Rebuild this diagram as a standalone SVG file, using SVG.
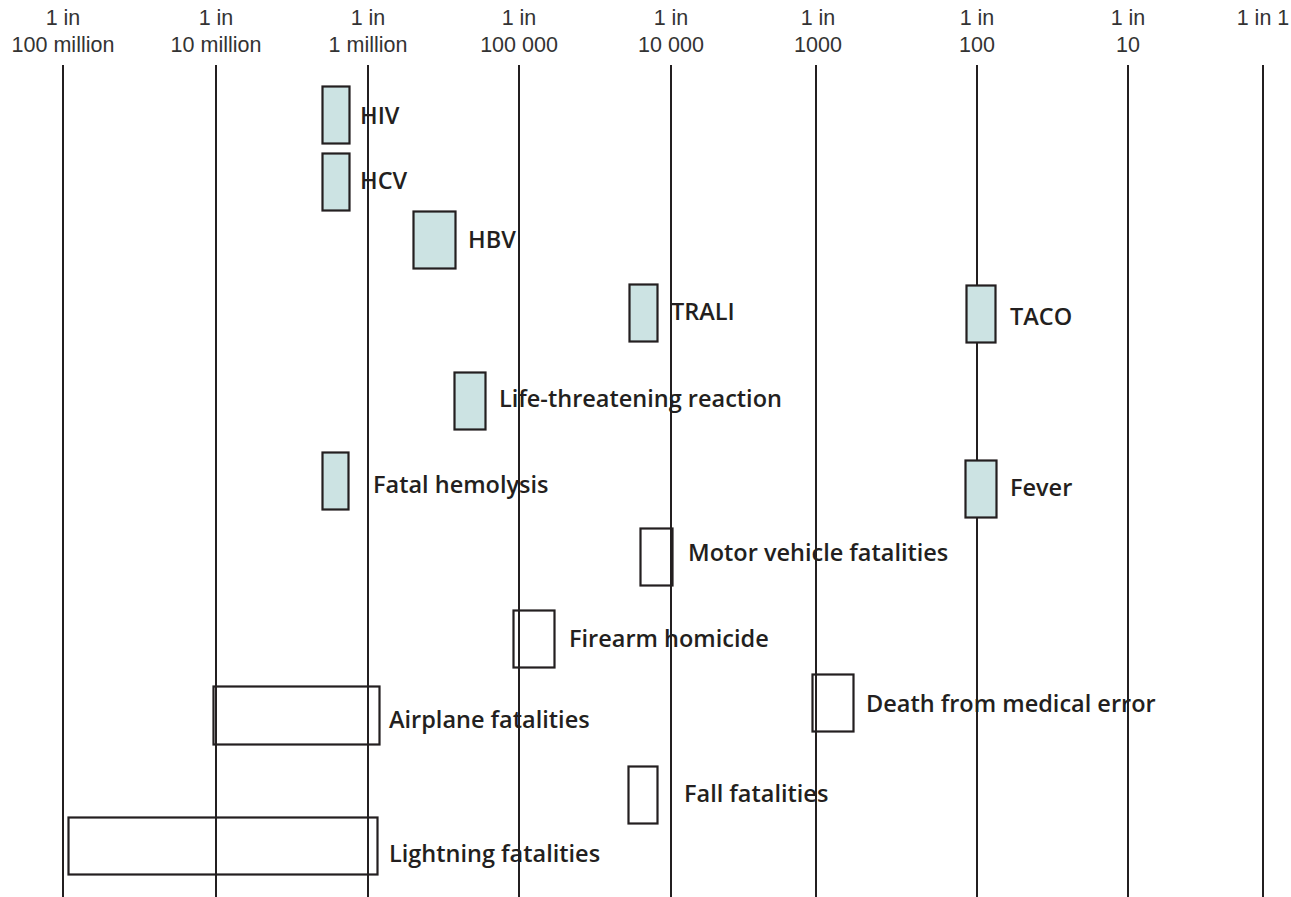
<svg xmlns="http://www.w3.org/2000/svg" width="1291" height="897" viewBox="0 0 1291 897">
<style>
.axis{stroke:#231f20;stroke-width:2;fill:none}
.hd{font-family:"Liberation Sans",Arial,sans-serif;font-size:21.5px;fill:#333;text-anchor:middle}
.b{stroke:#231f20;stroke-width:2.2}
.f{fill:#cce3e3}
.e{fill:none}
.lb{font-family:"Open Sans",sans-serif;font-weight:600;font-size:23.5px;fill:#231f20}
</style>
<rect width="1291" height="897" fill="#fff"/>
<g id="axes">
<line class="axis" x1="63" y1="65" x2="63" y2="897"/>
<line class="axis" x1="216" y1="65" x2="216" y2="897"/>
<line class="axis" x1="368" y1="65" x2="368" y2="897"/>
<line class="axis" x1="519" y1="65" x2="519" y2="897"/>
<line class="axis" x1="671" y1="65" x2="671" y2="897"/>
<line class="axis" x1="816" y1="65" x2="816" y2="897"/>
<line class="axis" x1="977" y1="65" x2="977" y2="897"/>
<line class="axis" x1="1128" y1="65" x2="1128" y2="897"/>
<line class="axis" x1="1263" y1="65" x2="1263" y2="897"/>
</g>
<g id="header">
<text class="hd" x="63" y="25">1 in</text><text class="hd" x="63" y="52">100 million</text>
<text class="hd" x="216" y="25">1 in</text><text class="hd" x="216" y="52">10 million</text>
<text class="hd" x="368" y="25">1 in</text><text class="hd" x="368" y="52">1 million</text>
<text class="hd" x="519" y="25">1 in</text><text class="hd" x="519" y="52">100 000</text>
<text class="hd" x="671" y="25">1 in</text><text class="hd" x="671" y="52">10 000</text>
<text class="hd" x="818" y="25">1 in</text><text class="hd" x="818" y="52">1000</text>
<text class="hd" x="977" y="25">1 in</text><text class="hd" x="977" y="52">100</text>
<text class="hd" x="1128" y="25">1 in</text><text class="hd" x="1128" y="52">10</text>
<text class="hd" x="1263" y="25">1 in 1</text>
</g>
<g id="hiv"><rect class="b f" x="322.5" y="86.5" width="27" height="57"/><text class="lb" x="360" y="124">HIV</text></g>
<g id="hcv"><rect class="b f" x="322.5" y="153.5" width="27" height="57"/><text class="lb" x="360" y="189">HCV</text></g>
<g id="hbv"><rect class="b f" x="413.5" y="211.5" width="42" height="57"/><text class="lb" x="468" y="248">HBV</text></g>
<g id="trali"><rect class="b f" x="629.5" y="284.5" width="28" height="57"/><text class="lb" x="671" y="320">TRALI</text></g>
<g id="taco"><rect class="b f" x="966.5" y="285.5" width="29" height="57"/><text class="lb" x="1010" y="325">TACO</text></g>
<g id="life"><rect class="b f" x="454.5" y="372.5" width="31" height="57"/><text class="lb" x="499" y="407">Life-threatening reaction</text></g>
<g id="hemolysis"><rect class="b f" x="322.5" y="452.5" width="26" height="57"/><text class="lb" x="373" y="493">Fatal hemolysis</text></g>
<g id="fever"><rect class="b f" x="965.5" y="460.5" width="31" height="57"/><text class="lb" x="1010" y="496">Fever</text></g>
<g id="motor"><rect class="b e" x="640.5" y="528.5" width="32" height="57"/><text class="lb" x="688" y="561">Motor vehicle fatalities</text></g>
<g id="firearm"><rect class="b e" x="513.5" y="610.5" width="41" height="57"/><text class="lb" x="569" y="647">Firearm homicide</text></g>
<g id="airplane"><rect class="b e" x="213.5" y="686.5" width="166" height="58"/><text class="lb" x="389" y="728">Airplane fatalities</text></g>
<g id="medical"><rect class="b e" x="812.5" y="674.5" width="41" height="57"/><text class="lb" x="866" y="712">Death from medical error</text></g>
<g id="fall"><rect class="b e" x="628.5" y="766.5" width="29" height="57"/><text class="lb" x="684" y="802">Fall fatalities</text></g>
<g id="lightning"><rect class="b e" x="68.5" y="817.5" width="309" height="57"/><text class="lb" x="389" y="862">Lightning fatalities</text></g>
</svg>
